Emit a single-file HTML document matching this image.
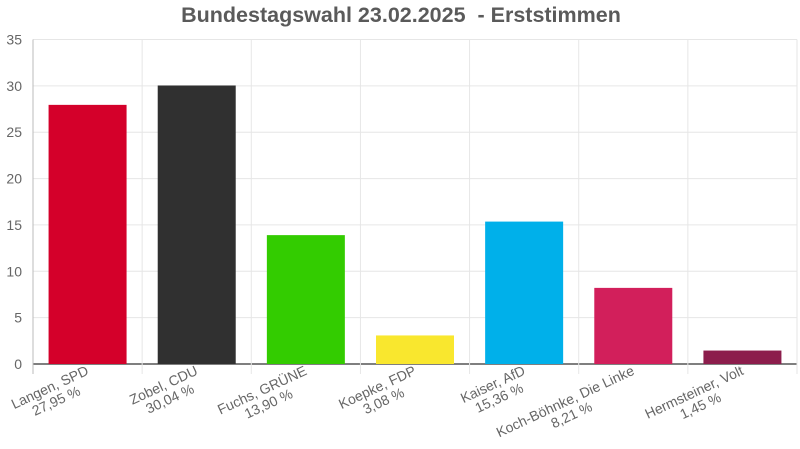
<!DOCTYPE html>
<html><head><meta charset="utf-8"><style>
body{margin:0;background:#fff;}
svg{display:block;font-family:"Liberation Sans",Arial,sans-serif;}
</style></head><body>
<svg id="c" width="800" height="449">
<text x="401" y="22" text-anchor="middle" font-size="21.5" font-weight="bold" fill="#5a5a5a" style="white-space:pre">Bundestagswahl 23.02.2025  - Erststimmen</text>
<g id="grid"></g><g id="bars"></g><g id="labels"></g>
</svg>
<script>
const candidates=["Langen, SPD","Zobel, CDU","Fuchs, GRÜNE","Koepke, FDP","Kaiser, AfD","Koch-Böhnke, Die Linke","Hermsteiner, Volt"];
const values=[27.95,30.04,13.90,3.08,15.36,8.21,1.45];
const valueLabels=["27,95 %","30,04 %","13,90 %","3,08 %","15,36 %","8,21 %","1,45 %"];
const colors=["#d4002a","#303030","#33cc00","#f9e72e","#00b0ea","#d21f5b","#8c1d4c"];
const yTicks=[0,5,10,15,20,25,30,35];
const NS="http://www.w3.org/2000/svg";
const L=33,R=797,T=39.5,B=364,yMax=35;
const y=v=>B-(v/yMax)*(B-T);
const band=(R-L)/candidates.length;
const x=i=>L+i*band;
function mk(t,a,p){const e=document.createElementNS(NS,t);for(const k in a)e.setAttribute(k,a[k]);p.appendChild(e);return e;}
const g=document.getElementById('grid'),bg=document.getElementById('bars'),lg=document.getElementById('labels');
yTicks.forEach(t=>{
 const ln=mk('line',{x1:L,x2:R,y1:y(t),y2:y(t),stroke:t?'#e6e6e6':'#555','stroke-width':t?1:1.5},g);
 
 
 const tx=mk('text',{x:22,y:y(t)+5,'text-anchor':'end','font-size':14,fill:'#666'},g);
 tx.textContent=t;
 
 
});
for(let i=0;i<=candidates.length;i++){
 const ln=mk('line',{x1:x(i),x2:x(i),y1:T,y2:B+10,stroke:i?'#e6e6e6':'#bbb'},g);
 
 
}
const bw=78;
values.forEach((v,i)=>{
 const cx=x(i)+band/2;
 const r=mk('rect',{x:cx-bw/2,y:y(v),width:bw,height:B-y(v),fill:colors[i]},bg);
 
 
 const gg=mk('g',{transform:`translate(${cx+2},374) rotate(-25)`},lg);
 
 
 const t1=mk('text',{'font-size':14,fill:'#666',y:0},gg);t1.textContent=candidates[i];
 const t2=mk('text',{'font-size':14,fill:'#666',y:15},gg);t2.textContent=valueLabels[i];
 const w1=t1.getComputedTextLength(),w2=t2.getComputedTextLength(),W=Math.max(w1,w2);
 t1.setAttribute('x',-W/2-w1/2);t2.setAttribute('x',-W/2-w2/2);
});
</script>
</body></html>
